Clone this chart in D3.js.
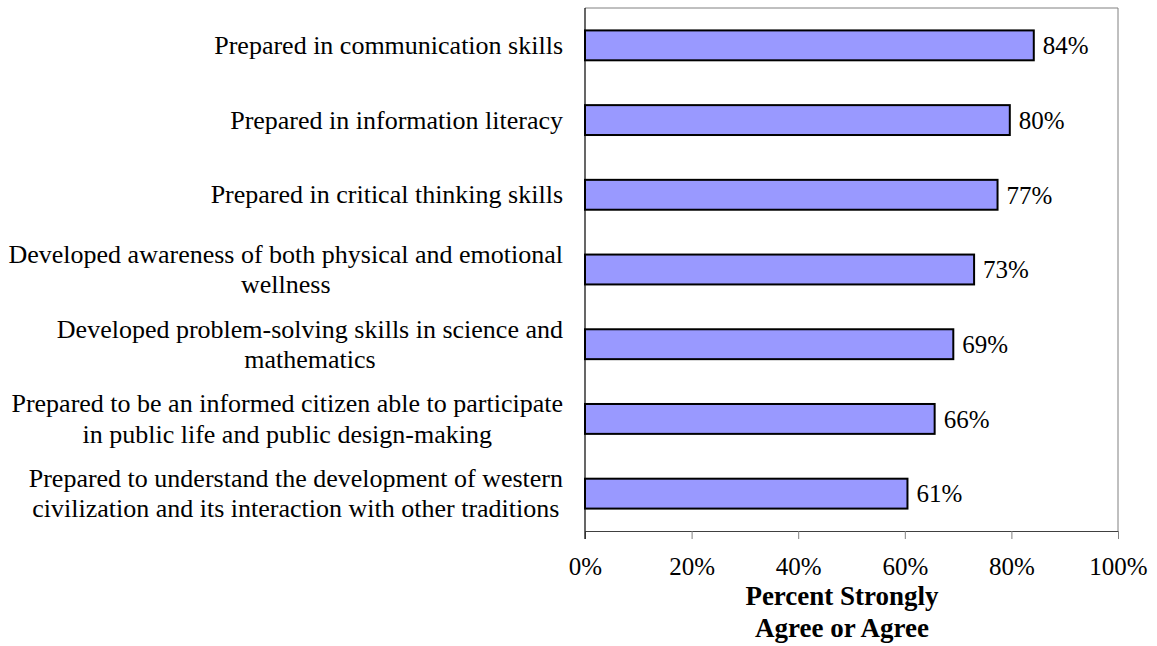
<!DOCTYPE html>
<html>
<head>
<meta charset="utf-8">
<script src="https://cdn.jsdelivr.net/npm/d3@7"></script>
<style>
  html, body { margin: 0; padding: 0; background: #fff; }
  svg { display: block; font-family: "Liberation Serif", "Times New Roman", serif; }
</style>
</head>
<body>
<svg id="chart" width="1157" height="646"></svg>
<script>
const categories = [
  "Prepared in communication skills",
  "Prepared in information literacy",
  "Prepared in critical thinking skills",
  "Developed awareness of both physical and emotional\nwellness",
  "Developed problem-solving skills in science and\nmathematics",
  "Prepared to be an informed citizen able to participate\nin public life and public design-making",
  "Prepared to understand the development of western\ncivilization and its interaction with other traditions"
];
const values = [84.2, 79.7, 77.4, 73.0, 69.1, 65.6, 60.5];
const valueLabels = ["84%", "80%", "77%", "73%", "69%", "66%", "61%"];
const tickValues = [0, 20, 40, 60, 80, 100];
const tickLabels = ["0%", "20%", "40%", "60%", "80%", "100%"];
const axisTitle = ["Percent Strongly", "Agree or Agree"];

const svg = d3.select("#chart");
const plot = { left: 585, right: 1118, top: 8, bottom: 531 };
const fontSize = 25;
const catFontSize = 26;

const x = d3.scaleLinear().domain([0, 100]).range([plot.left, plot.right]);
const y = d3.scaleBand().domain(categories).range([plot.top, plot.bottom])
  .paddingInner(0.6).paddingOuter(0.3);

// plot frame (top & right)
svg.append("path")
  .attr("d", `M${plot.left},${plot.top}H${plot.right}V${plot.bottom}`)
  .attr("fill", "none").attr("stroke", "#808080").attr("stroke-width", 1);

// bars
svg.append("g").selectAll("rect").data(values).join("rect")
  .attr("x", x(0))
  .attr("y", (d, i) => y(categories[i]))
  .attr("width", d => x(d) - x(0))
  .attr("height", y.bandwidth())
  .attr("fill", "#9999FF")
  .attr("stroke", "#000")
  .attr("stroke-width", 2);

// value labels
svg.append("g").selectAll("text").data(values).join("text")
  .attr("x", d => x(d) + 9)
  .attr("y", (d, i) => y(categories[i]) + y.bandwidth() / 2)
  .attr("dy", "0.35em")
  .attr("font-size", fontSize)
  .attr("fill", "#000")
  .text((d, i) => valueLabels[i]);

// x axis
const xAxis = d3.axisBottom(x).tickValues(tickValues)
  .tickFormat((d, i) => tickLabels[i]).tickSize(8).tickPadding(18);
const gx = svg.append("g").attr("transform", `translate(0,${plot.bottom})`).call(xAxis);
gx.select(".domain").attr("stroke", "#404040");
gx.selectAll(".tick line").attr("stroke", "#808080");
gx.selectAll(".tick text").attr("font-size", fontSize).attr("fill", "#000")
  .attr("font-family", "Liberation Serif, Times New Roman, serif");

// y axis (left line)
svg.append("line")
  .attr("x1", plot.left).attr("x2", plot.left)
  .attr("y1", plot.top).attr("y2", plot.bottom + 8)
  .attr("stroke", "#000").attr("stroke-width", 1.2);

// category labels: block right-aligned, lines centred within block
const labelRight = 563;
const lineH = 30.5;
const lg = svg.append("g");
categories.forEach((c, i) => {
  const lines = c.split("\n");
  const cy = y(c) + y.bandwidth() / 2;
  const t = lg.append("text")
    .attr("font-size", catFontSize).attr("fill", "#000")
    .attr("text-anchor", "middle");
  const spans = lines.map((ln, j) => t.append("tspan")
    .attr("y", cy + (j - (lines.length - 1) / 2) * lineH)
    .attr("dy", "0.33em")
    .text(ln));
  const maxW = d3.max(spans, s => s.node().getComputedTextLength());
  spans.forEach(s => s.attr("x", labelRight - maxW / 2));
});

// axis title
const tt = svg.append("text").attr("text-anchor", "middle")
  .attr("font-size", 27).attr("font-weight", "bold").attr("fill", "#000");
axisTitle.forEach((ln, j) => {
  tt.append("tspan").attr("x", 842).attr("y", 605 + j * 32).text(ln);
});
</script>
</body>
</html>
